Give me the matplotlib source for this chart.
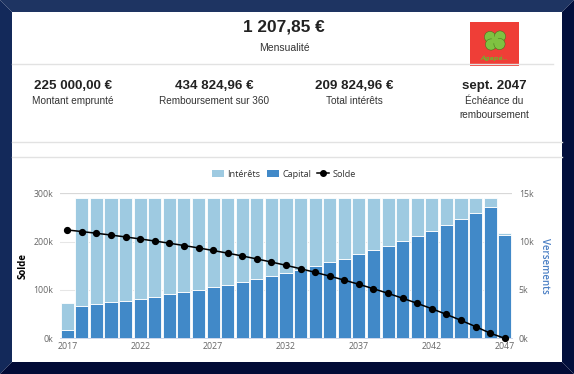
import matplotlib
matplotlib.use('Agg')
import matplotlib.pyplot as plt
from matplotlib.patches import Polygon, Patch, Circle
from matplotlib.lines import Line2D
import numpy as np

W, H = 574, 374

# data (yearly totals, loan of 225 000 EUR over 360 months)
years = list(range(2017, 2048))
capital = [814, 3362, 3533, 3714, 3904, 4104, 4313, 4535, 4766, 5010,
           5267, 5536, 5819, 6117, 6430, 6759, 7104, 7469, 7850, 8252,
           8674, 9118, 9585, 10074, 10591, 11132, 11702, 12300, 12930, 13591,
           10645]
interets = [2810, 11132, 10961, 10780, 10590, 10390, 10181, 9959, 9728, 9484,
            9227, 8958, 8675, 8377, 8064, 7735, 7390, 7025, 6644, 6242,
            5820, 5376, 4909, 4420, 3903, 3362, 2792, 2194, 1564, 903,
            226]
solde = [224186, 220824, 217291, 213577, 209673, 205569, 201256, 196721, 191955, 186945,
         181678, 176142, 170323, 164206, 157776, 151017, 143913, 136444, 128594, 120342,
         111668, 102550, 92965, 82891, 72300, 61168, 49466, 37166, 24236, 10645,
         0]

stats_values = ['225 000,00 €', '434 824,96 €', '209 824,96 €', 'sept. 2047']
stats_labels = ['Montant emprunté', 'Remboursement sur 360', 'Total intérêts',
                'Échéance du\nremboursement']


def fx(px):
    return px / W


def fy(py):
    return 1 - py / H


fig = plt.figure(figsize=(W / 100, H / 100), dpi=100, facecolor='white')

# bevelled navy frame
b = 12
frame = [
    ([(0, 0), (W, 0), (W - b, b), (b, b)], '#1e3462'),
    ([(0, 0), (b, b), (b, H - b), (0, H)], '#13295a'),
    ([(W, 0), (W, H), (W - b, H - b), (W - b, b)], '#020f3c'),
    ([(0, H), (W, H), (W - b, H - b), (b, H - b)], '#020b36'),
]
for pts, col in frame:
    fig.patches.append(Polygon([(fx(x), fy(y)) for x, y in pts], closed=True,
                               facecolor=col, edgecolor='none',
                               transform=fig.transFigure, figure=fig))

# separators
for y, x0, x1 in [(64, 12, 553), (142, 12, 562), (157, 12, 562)]:
    fig.add_artist(Line2D([fx(x0), fx(x1)], [fy(y), fy(y)], color='#e2e2e2', lw=1.0))

hfont = 'Liberation Sans'
fig.text(fx(284), fy(27), '1 207,85 €', ha='center', va='center', family=hfont,
         weight='bold', size=12.4, color='#222222')
fig.text(fx(284), fy(48), 'Mensualité', ha='center', va='center', family=hfont,
         size=7.5, color='#333333')

cols = [73, 214, 354, 494]
for cx, val, lab in zip(cols, stats_values, stats_labels):
    fig.text(fx(cx), fy(86), val, ha='center', va='center', family=hfont,
             weight='bold', size=9.6, color='#222222')
    fig.text(fx(cx), fy(96), lab, ha='center', va='top', family=hfont,
             size=7.2, color='#333333', linespacing=1.45)

# logo
lax = fig.add_axes([fx(470), fy(66), 49 / W, 44 / H])
lax.set_xlim(0, 49)
lax.set_ylim(0, 44)
lax.set_facecolor('#ef3e37')
lax.set_xticks([])
lax.set_yticks([])
for s in lax.spines.values():
    s.set_visible(False)
for dx, dy in [(-5, 3), (5, 3.5), (-4, -4.5), (4.5, -4)]:
    lax.add_patch(Circle((25 + dx, 26 + dy), 5.6, facecolor='#7fc241',
                         edgecolor='#3f6d1b', lw=0.35))
lax.add_patch(Circle((25, 26), 3.5, facecolor='#7fc241', edgecolor='none'))
lax.text(24.5, 8, 'Ágapé..', ha='center', va='center', size=4.6, style='italic',
         weight='bold', color='#6cb52e', family='DejaVu Sans')

# chart
light = '#9ecae1'
dark = '#4189c8'
tick_size = 6.3
x = np.arange(len(years))

ax = fig.add_axes([fx(60), fy(338.3), 452 / W, 145 / H])
ax.bar(x, capital, width=0.9, color=dark, edgecolor='white', linewidth=0.6, zorder=2)
ax.bar(x, interets, bottom=capital, width=0.9, color=light, edgecolor='white',
       linewidth=0.6, zorder=2)
ax.set_xlim(-0.5, len(years) - 0.5)
ax.set_ylim(0, 15000)
ax.set_axisbelow(True)

ax2 = ax.twinx()
ax2.plot(x, solde, color='black', lw=1.1, marker='o', ms=4.2, clip_on=False, zorder=5)
ax2.set_ylim(0, 300000)
ax2.yaxis.tick_left()
ax2.set_yticks([0, 100000, 200000, 300000])
ax2.set_yticklabels(['0k', '100k', '200k', '300k'])
ax2.tick_params(axis='y', length=0, labelsize=tick_size, labelcolor='#666666', pad=5)
for s in ax2.spines.values():
    s.set_visible(False)

# bar axis ticks go on the right (after twinx, which moves them left)
ax.yaxis.tick_right()
ax.set_yticks([0, 5000, 10000, 15000])
ax.set_yticklabels(['0k', '5k', '10k', '15k'])
ax.grid(axis='y', color='#e6e6e6', lw=0.75)
ax.get_ygridlines()[-1].set_linewidth(1.6)
ax.get_ygridlines()[-1].set_color('#d8d8d8')
ax.set_xticks(x[::5])
ax.set_xticklabels([str(y) for y in years[::5]])
ax.tick_params(axis='both', length=0, labelsize=tick_size, labelcolor='#666666')
ax.tick_params(axis='x', pad=2.5)
ax.tick_params(axis='y', pad=5)
for s in ['top', 'left', 'right']:
    ax.spines[s].set_visible(False)
ax.spines['bottom'].set_color('#ccd6eb')
ax.spines['bottom'].set_linewidth(0.7)

for lab in ax.get_xticklabels() + ax.get_yticklabels() + ax2.get_yticklabels():
    lab.set_family('Open Sans')

fig.text(fx(23), fy(266), 'Solde', rotation=90, ha='center', va='center',
         family='Open Sans', weight='bold', size=6.9, color='black')
fig.text(fx(545), fy(266), 'Versements', rotation=270, ha='center', va='center',
         family='Open Sans', weight='semibold', size=7.0, color='#4a7fc4')

handles = [Patch(facecolor=light, edgecolor='none'),
           Patch(facecolor=dark, edgecolor='none'),
           Line2D([], [], color='black', marker='o', ms=4, lw=1.1)]
fig.legend(handles, ['Intérêts', 'Capital', 'Solde'], loc='center',
           bbox_to_anchor=(fx(284), fy(174)), ncol=3, frameon=False,
           prop={'family': 'Open Sans', 'size': 6.6}, labelcolor='#333333',
           handlelength=1.3, handleheight=0.9, columnspacing=0.7, handletextpad=0.4)

fig.savefig('out.png', dpi=100)
